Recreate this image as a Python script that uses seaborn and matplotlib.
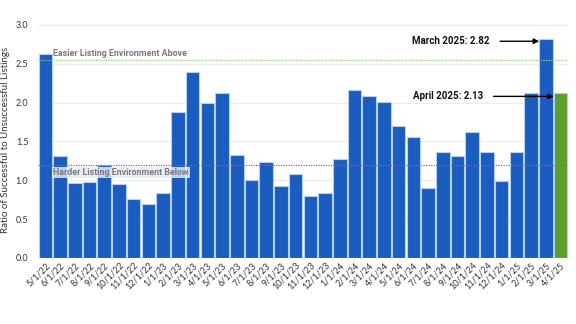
import matplotlib
matplotlib.use("Agg")
import matplotlib.pyplot as plt
import seaborn as sns
import pandas as pd

labels = ["5/1/22", "6/1/22", "7/1/22", "8/1/22", "9/1/22", "10/1/22", "11/1/22", "12/1/22",
          "1/1/23", "2/1/23", "3/1/23", "4/1/23", "5/1/23", "6/1/23", "7/1/23", "8/1/23",
          "9/1/23", "10/1/23", "11/1/23", "12/1/23",
          "1/1/24", "2/1/24", "3/1/24", "4/1/24", "5/1/24", "6/1/24", "7/1/24", "8/1/24",
          "9/1/24", "10/1/24", "11/1/24", "12/1/24",
          "1/1/25", "2/1/25", "3/1/25", "4/1/25"]
values = [2.63, 1.31, 0.97, 0.98, 1.19, 0.95, 0.76, 0.70,
          0.84, 1.88, 2.40, 1.99, 2.13, 1.32, 1.00, 1.24,
          0.92, 1.08, 0.80, 0.84,
          1.28, 2.16, 2.09, 2.01, 1.70, 1.56, 0.90, 1.36,
          1.31, 1.62, 1.36, 0.99,
          1.36, 2.13, 2.82, 2.13]
easier_level = 2.55
harder_level = 1.19

blue = "#1a5cbf"
green = "#5aa02c"
colors = [blue] * (len(labels) - 1) + [green]

df = pd.DataFrame({"month": labels, "ratio": values})

sns.set_theme(style="white")
plt.rcParams['font.family'] = ['Lato', 'DejaVu Sans']

fig = plt.figure(figsize=(5.76, 3.24), dpi=100)
ax = fig.add_axes([0.066, 0.204, 0.92, 0.731])

sns.barplot(data=df, x="month", y="ratio", hue="month", palette=colors,
            legend=False, width=0.92, edgecolor="#b4d0f0", linewidth=0.8,
            saturation=1, ax=ax)

ax.set_xlim(-0.5, len(labels) - 0.5)
ax.set_ylim(0, 3.05)
ax.set_yticks([0.0, 0.5, 1.0, 1.5, 2.0, 2.5, 3.0])
ax.set_yticklabels(["0.0", "0.5", "1.0", "1.5", "2.0", "2.5", "3.0"])
ax.yaxis.grid(True, color="#ececec", linewidth=0.8)
ax.set_axisbelow(True)
for s in ax.spines.values():
    s.set_visible(False)

ax.tick_params(axis="y", labelsize=6.5, colors="#333333", length=0, pad=7)
ax.tick_params(axis="x", labelsize=6.5, colors="#333333", length=0, pad=2)
plt.setp(ax.get_xticklabels(), rotation=45, ha="right", rotation_mode="anchor")
ax.set_xlabel("")
ax.set_ylabel("Ratio of Successful to Unsuccessful Listings", fontsize=7, color="#333333", labelpad=4)

ax.axhline(easier_level, color="#8fd17a", linestyle=(0, (1, 1)), linewidth=0.9, zorder=3)
ax.axhline(harder_level, color="#b35a6a", linestyle=(0, (1, 1)), linewidth=0.9, zorder=3)

bold_font = ['Roboto', 'DejaVu Sans']
ax.text(0.55, easier_level + 0.03, "Easier Listing Environment Above", fontsize=6.4,
        fontweight="bold", family=bold_font, color="#7a7a7a", ha="left", va="bottom", zorder=4)
ax.text(0.55, harder_level - 0.09, "Harder Listing Environment Below", fontsize=6.4,
        fontweight="bold", family=bold_font, color="#7a7a7a", ha="left", va="center", zorder=4,
        bbox=dict(boxstyle="square,pad=0.15", facecolor="#e2ebf7", edgecolor="none", alpha=0.85))

ax.annotate("March 2025: 2.82", xy=(33.55, 2.79), xytext=(30.2, 2.79),
            fontsize=7, fontweight="bold", family=bold_font, color="#111111", ha="right", va="center",
            arrowprops=dict(arrowstyle="-|>", color="black", lw=1.0, mutation_scale=8,
                            shrinkA=5, shrinkB=0), zorder=5)
ax.annotate("April 2025: 2.13", xy=(34.55, 2.08), xytext=(29.75, 2.08),
            fontsize=7, fontweight="bold", family=bold_font, color="#111111", ha="right", va="center",
            arrowprops=dict(arrowstyle="-|>", color="black", lw=1.0, mutation_scale=8,
                            shrinkA=5, shrinkB=0), zorder=5)

fig.savefig("out.png", dpi=100, facecolor="white")
